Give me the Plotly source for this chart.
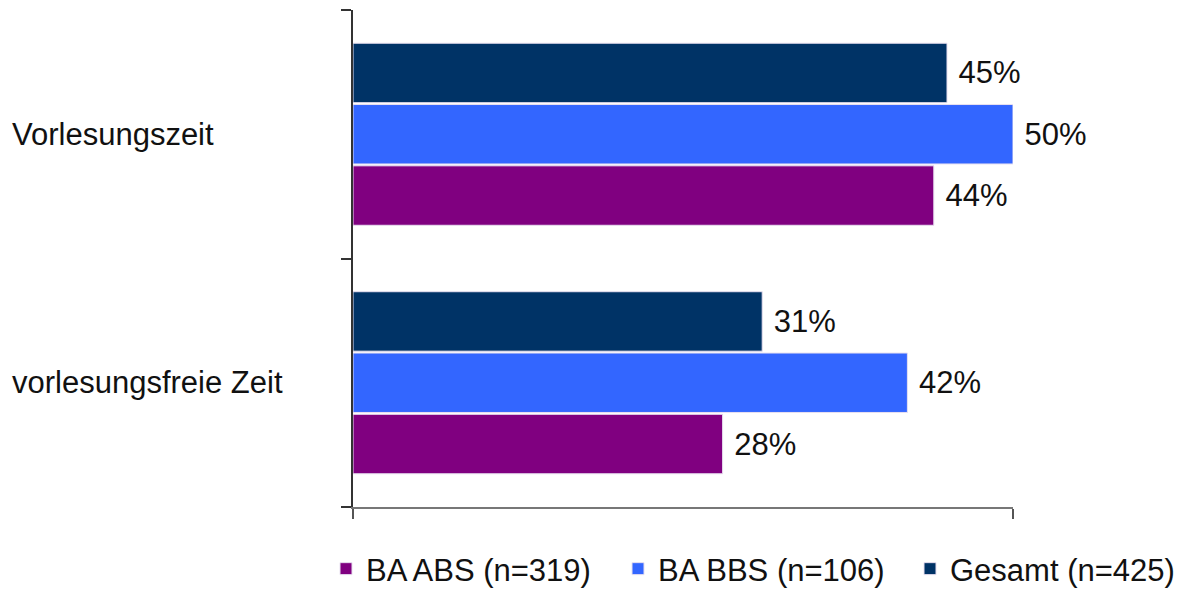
import plotly.graph_objects as go

categories = ["vorlesungsfreie Zeit", "Vorlesungszeit"]
series_names = ["BA ABS (n=319)", "BA BBS (n=106)", "Gesamt (n=425)"]
abs_values = [28, 44]
bbs_values = [42, 50]
gesamt_values = [31, 45]
colors = ["#800080", "#3366FF", "#003366"]

W, H = 1187, 590
ml, mr, mt, mb = 353, 174, 10, 83
FONT = "Liberation Sans, Arial, sans-serif"
FS = 31

fig = go.Figure()
for name, vals, col in zip(series_names, [abs_values, bbs_values, gesamt_values], colors):
    fig.add_trace(go.Bar(
        y=categories, x=vals, name=name, orientation="h",
        marker=dict(color=col, line=dict(color="#E8E0F0", width=1)),
        text=[f" {v}%" for v in vals], textposition="outside",
        textfont=dict(family=FONT, size=FS, color="#111111"),
        cliponaxis=False,
    ))

plot_w = W - ml - mr
plot_h = H - mt - mb
for c in categories:
    fig.add_annotation(
        x=(10 - ml) / plot_w, xref="paper", xanchor="left",
        y=c, yref="y", yanchor="middle",
        text=c, showarrow=False,
        font=dict(family=FONT, size=FS, color="#111111"),
    )

fig.update_layout(
    width=W, height=H,
    margin=dict(l=ml, r=mr, t=mt, b=mb, autoexpand=False),
    paper_bgcolor="white", plot_bgcolor="white",
    barmode="group", bargap=0.26, bargroupgap=0.03,
    showlegend=True,
    legend=dict(
        orientation="h", x=(326 - ml) / plot_w, xanchor="left",
        y=-(542 - (H - mb)) / plot_h, yanchor="top",
        font=dict(family=FONT, size=FS, color="#111111"),
        bgcolor="rgba(0,0,0,0)",
        traceorder="normal", itemclick=False,
        entrywidth=247, entrywidthmode="pixels",
    ),
    xaxis=dict(
        range=[0, 50], showgrid=False, zeroline=False,
        showline=True, linecolor="#777777", linewidth=2,
        ticks="outside", ticklen=10, tickwidth=2, tickcolor="#555555",
        tickvals=[0, 50], showticklabels=False,
    ),
    yaxis=dict(
        categoryorder="array", categoryarray=categories,
        showgrid=False, zeroline=False,
        showline=True, linecolor="#333333", linewidth=2,
        ticks="outside", ticklen=10, tickwidth=2, tickcolor="#333333",
        tickson="boundaries", showticklabels=False,
    ),
)

fig.write_html("out.html")
